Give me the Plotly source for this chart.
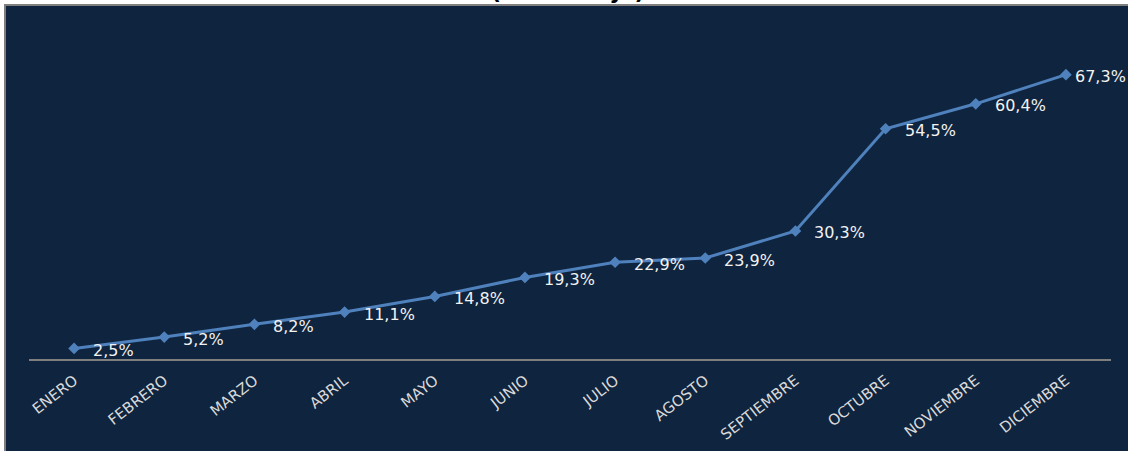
import plotly.graph_objects as go

months = ["ENERO", "FEBRERO", "MARZO", "ABRIL", "MAYO", "JUNIO", "JULIO",
          "AGOSTO", "SEPTIEMBRE", "OCTUBRE", "NOVIEMBRE", "DICIEMBRE"]
values = [2.5, 5.2, 8.2, 11.1, 14.8, 19.3, 22.9, 23.9, 30.3, 54.5, 60.4, 67.3]
labels = ["2,5%", "5,2%", "8,2%", "11,1%", "14,8%", "19,3%", "22,9%",
          "23,9%", "30,3%", "54,5%", "60,4%", "67,3%"]
title_text = "(Porcentaje)"

W, H = 1128, 451
ML, MR, MT, MB = 29, 17, 21, 92
PW = W - ML - MR
PH = H - MT - MB


def px(x):
    return (x - ML) / PW


def py(y):
    return (H - MB - y) / PH


BG = "#0F243E"
BLUE = "#4F81BD"

fig = go.Figure()
fig.add_trace(go.Scatter(
    x=months, y=values, mode="lines+markers",
    line=dict(color=BLUE, width=3),
    marker=dict(symbol="diamond", size=9, color=BLUE),
    hoverinfo="skip", showlegend=False,
))

annotations = []
for i, (m, v, t) in enumerate(zip(months, values, labels)):
    annotations.append(dict(
        x=m, y=v, xref="x", yref="y", text=t, showarrow=False,
        xanchor="left", yanchor="middle",
        xshift=7 if i == len(months) - 1 else 17, yshift=-2,
        font=dict(family="DejaVu Sans", size=16, color="#F2F2F2"),
    ))

annotations.append(dict(
    x=px(568), y=py(5.5), xref="paper", yref="paper", text="<b>" + title_text + "</b>",
    showarrow=False, xanchor="center", yanchor="bottom",
    font=dict(family="DejaVu Sans", size=22, color="#000000"),
))

shapes = [
    dict(type="rect", xref="paper", yref="paper", x0=px(-2), x1=px(W + 2),
         y0=py(-2), y1=py(4), fillcolor="#FFFFFF", line=dict(width=0), layer="below"),
    dict(type="rect", xref="paper", yref="paper", x0=px(-2), x1=px(4),
         y0=py(-2), y1=py(H + 2), fillcolor="#FFFFFF", line=dict(width=0), layer="below"),
    dict(type="rect", xref="paper", yref="paper", x0=px(4), x1=px(W + 2),
         y0=py(4), y1=py(6), fillcolor="#7F7F7F", line=dict(width=0), layer="below"),
    dict(type="rect", xref="paper", yref="paper", x0=px(4), x1=px(6),
         y0=py(4), y1=py(H + 2), fillcolor="#7F7F7F", line=dict(width=0), layer="below"),
]

fig.update_layout(
    width=W, height=H,
    margin=dict(l=ML, r=MR, t=MT, b=MB, autoexpand=False),
    paper_bgcolor=BG, plot_bgcolor=BG,
    annotations=annotations, shapes=shapes,
    xaxis=dict(
        type="category", tickangle=-38, showgrid=False, zeroline=False,
        showline=True, linecolor="#7F7F7F", linewidth=2,
        ticks="", ticklabelstandoff=5,
        tickfont=dict(family="DejaVu Sans", size=15, color="#D9D9D9"),
        range=[-0.5, len(months) - 0.5], fixedrange=True,
    ),
    yaxis=dict(
        range=[0, 80], showgrid=False, zeroline=False, showline=False,
        showticklabels=False, ticks="", fixedrange=True,
    ),
)

fig.write_html(
    "out.html",
    config={"displayModeBar": False, "staticPlot": True},
    post_script="document.body.style.margin='0';document.body.style.overflow='hidden';",
)
